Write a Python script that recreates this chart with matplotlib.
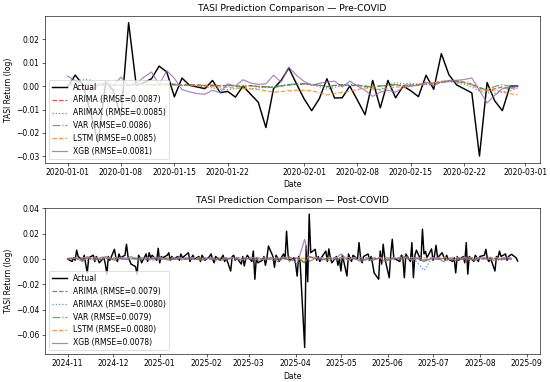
import numpy as np
import pandas as pd
import matplotlib
matplotlib.use("Agg")
import matplotlib.pyplot as plt

# ---- Pre-COVID window (daily, 2020-01-01 .. 2020-02-29) ----
pre_dates = pd.date_range("2020-01-01", "2020-02-29", freq="D")

pre_actual = [
    -0.0005, 0.0047, 0.0005, -0.0110, -0.0240, 0.0018, -0.0020, -0.0130, 0.0270, 0.0003,
    0.0015, 0.0031, 0.0085, 0.0060, -0.0046, 0.0034, 0.0003, -0.0004, -0.0011, 0.0024,
    -0.0028, -0.0023, -0.0047, 0.0000, -0.0035, -0.0069, -0.0177, -0.0011, 0.0024, 0.0077,
    0.0010, -0.0054, -0.0105, -0.0054, 0.0031, -0.0051, -0.0050, 0.0000, -0.0060, -0.0122,
    0.0024, -0.0093, 0.0024, -0.0050, 0.0000, -0.0020, -0.0045, 0.0046, -0.0014, 0.0138,
    0.0048, 0.0005, -0.0012, -0.0029, -0.0298, 0.0015, -0.0063, -0.0105, 0.0000, 0.0000,
]
pre_arima = [
    0.0003, 0.0008, 0.0006, 0.0004, 0.0006, 0.0005, 0.0002, 0.0004, 0.0005, 0.0010,
    0.0008, 0.0006, 0.0007, 0.0009, 0.0008, 0.0004, 0.0006, 0.0005, 0.0003, 0.0004,
    0.0002, 0.0003, 0.0001, -0.0001, 0.0002, -0.0002, -0.0004, -0.0006, 0.0000, 0.0004,
    0.0008, 0.0009, 0.0007, 0.0004, -0.0002, 0.0003, 0.0006, 0.0002, 0.0004, 0.0000,
    -0.0004, 0.0001, 0.0003, 0.0005, 0.0002, 0.0004, 0.0006, 0.0009, 0.0012, 0.0018,
    0.0022, 0.0020, 0.0016, 0.0008, -0.0006, -0.0018, -0.0012, -0.0004, -0.0010, -0.0006,
]
pre_arimax = [
    0.0005, 0.0015, 0.0030, 0.0025, 0.0012, 0.0006, 0.0004, 0.0008, 0.0004, 0.0012,
    0.0010, 0.0006, 0.0003, 0.0006, 0.0008, 0.0002, 0.0004, 0.0001, -0.0004, -0.0008,
    -0.0012, -0.0016, -0.0010, -0.0006, -0.0012, -0.0008, -0.0004, -0.0002, 0.0002, 0.0008,
    0.0006, 0.0010, 0.0004, -0.0002, -0.0014, -0.0006, 0.0002, 0.0008, 0.0004, -0.0004,
    -0.0012, -0.0018, 0.0006, 0.0014, 0.0010, 0.0012, 0.0008, 0.0006, 0.0004, 0.0018,
    0.0020, 0.0012, 0.0008, -0.0004, -0.0022, -0.0028, -0.0030, -0.0026, -0.0022, -0.0008,
]
pre_var = [
    0.0002, 0.0006, 0.0008, 0.0007, 0.0005, 0.0004, 0.0003, 0.0006, 0.0004, 0.0008,
    0.0007, 0.0005, 0.0006, 0.0008, 0.0006, 0.0003, 0.0004, 0.0004, 0.0002, 0.0003,
    0.0001, 0.0002, 0.0000, -0.0002, 0.0001, -0.0001, -0.0003, -0.0005, 0.0001, 0.0006,
    0.0009, 0.0010, 0.0008, 0.0003, -0.0004, 0.0002, 0.0005, 0.0001, 0.0003, -0.0001,
    -0.0005, 0.0000, 0.0003, 0.0006, 0.0003, 0.0005, 0.0007, 0.0010, 0.0013, 0.0016,
    0.0019, 0.0018, 0.0014, 0.0006, -0.0008, -0.0016, -0.0002, 0.0006, -0.0002, -0.0004,
]
pre_lstm = [
    0.0004, 0.0005, 0.0006, 0.0005, 0.0004, 0.0005, 0.0004, 0.0003, 0.0005, 0.0004,
    0.0006, 0.0005, 0.0005, 0.0004, 0.0003, 0.0003, 0.0002, 0.0001, 0.0000, -0.0002,
    -0.0004, -0.0006, -0.0008, -0.0010, -0.0012, -0.0015, -0.0020, -0.0026, -0.0024, -0.0020,
    -0.0018, -0.0018, -0.0020, -0.0028, -0.0038, -0.0032, -0.0026, -0.0022, -0.0015, -0.0008,
    -0.0012, -0.0014, -0.0008, -0.0005, -0.0002, 0.0000, 0.0005, 0.0010, 0.0015, 0.0020,
    0.0022, 0.0024, 0.0018, 0.0005, -0.0015, -0.0020, -0.0018, -0.0024, -0.0032, -0.0037,
]
pre_xgb = [
    0.0042, 0.0024, 0.0005, -0.0020, 0.0000, 0.0017, 0.0003, 0.0038, 0.0003, 0.0010,
    0.0038, 0.0060, 0.0005, 0.0066, 0.0033, -0.0015, -0.0025, -0.0032, -0.0035, -0.0018,
    -0.0028, 0.0010, 0.0000, 0.0027, 0.0013, 0.0007, 0.0010, 0.0046, 0.0017, 0.0081,
    0.0046, 0.0020, 0.0003, 0.0012, 0.0017, 0.0021, -0.0004, 0.0021, 0.0000, -0.0018,
    -0.0044, -0.0026, -0.0018, -0.0026, -0.0007, 0.0000, 0.0003, 0.0017, 0.0003, 0.0017,
    0.0024, 0.0024, 0.0028, 0.0034, -0.0018, -0.0072, -0.0040, -0.0011, -0.0007, -0.0001,
]
pre_rmse = ["0.0087", "0.0085", "0.0086", "0.0085", "0.0081"]

# ---- Post-COVID window (business days, 2024-11-01 .. 2025-08-26) ----
post_dates = pd.bdate_range("2024-11-01", "2025-08-26")

post_actual = [
    0.000, -0.002, 0.001, -0.001, 0.007, 0.002, -0.001, 0.003, -0.004, -0.011,
    0.001, 0.003, -0.002, 0.002, 0.000, -0.003, 0.001, -0.004, -0.012, 0.002,
    -0.001, 0.0077, 0.001, -0.002, 0.004, 0.001, 0.003, 0.0117, 0.002, -0.001,
    -0.004, -0.006, -0.012, 0.003, 0.001, -0.003, 0.004, -0.002, 0.005, 0.001,
    0.003, -0.001, 0.0085, -0.003, 0.002, 0.001, 0.003, 0.005, -0.001, 0.002,
    0.000, 0.002, -0.001, 0.004, 0.001, 0.002, 0.005, -0.002, 0.001, 0.003,
    0.000, 0.002, -0.002, 0.003, 0.001, -0.001, 0.002, 0.004, 0.000, -0.003,
    0.002, -0.001, 0.001, 0.003, -0.002, 0.001, -0.0095, 0.002, 0.003, -0.001,
    0.001, -0.004, 0.002, -0.0055, 0.000, 0.003, -0.002, 0.0063, -0.016, 0.001,
    -0.003, -0.001, 0.002, -0.005, 0.001, 0.0103, 0.002, -0.0066, 0.003, 0.001,
    -0.002, 0.004, 0.000, 0.022, 0.003, -0.001, 0.001, -0.004, -0.0135, 0.002,
    -0.003, -0.070, 0.0103, -0.018, 0.0355, 0.005, 0.0077, -0.001, 0.002, -0.002,
    0.001, 0.0063, -0.002, 0.008, 0.001, -0.003, 0.002, -0.005, 0.000, -0.0095,
    0.003, -0.0135, 0.004, 0.001, -0.002, 0.003, 0.000, 0.013, 0.001, -0.003,
    0.002, 0.004, -0.001, 0.002, -0.004, -0.011, -0.016, 0.0063, -0.004, 0.0117,
    0.001, -0.0148, 0.004, 0.0156, 0.001, 0.000, -0.002, 0.003, 0.001, -0.0148,
    0.004, -0.002, 0.013, -0.0148, 0.003, 0.007, -0.001, 0.0236, 0.004, 0.006,
    0.001, 0.008, -0.001, 0.003, 0.0109, 0.001, 0.005, 0.002, -0.001, 0.003,
    0.000, -0.002, 0.001, -0.011, 0.002, -0.001, 0.002, -0.003, 0.013, -0.012,
    0.002, -0.002, 0.003, 0.001, -0.002, 0.002, 0.003, 0.0077, 0.000, -0.002,
    0.001, -0.0095, 0.002, 0.001, 0.0063, 0.002, 0.004, -0.001, 0.002, 0.003,
    0.0037, 0.001, -0.0016,
]

# model forecasts are stored every 3rd trading day
post_pred_dates = post_dates[::3]

post_arima = [
    0.0000, 0.0005, -0.0005, 0.0008, 0.0000, -0.0004, 0.0006, 0.0000, 0.0004, -0.0003,
    0.0005, 0.0002, 0.0000, 0.0004, -0.0002, 0.0003, 0.0001, 0.0000, 0.0003, -0.0002,
    0.0002, 0.0000, 0.0004, -0.0003, 0.0001, 0.0003, 0.0000, -0.0002, 0.0004, 0.0000,
    0.0002, -0.0003, 0.0003, 0.0000, 0.0008, -0.0010, 0.0006, -0.0020, 0.0020, 0.0002,
    -0.0005, 0.0006, 0.0000, 0.0010, -0.0004, 0.0004, -0.0006, 0.0002, 0.0000, 0.0005,
    -0.0004, 0.0006, 0.0000, 0.0008, -0.0002, 0.0004, -0.0010, 0.0006, 0.0000, 0.0004,
    -0.0002, 0.0003, 0.0000, 0.0005, -0.0002, 0.0003, 0.0000, 0.0004, -0.0001, 0.0002,
    0.0000,
]
post_arimax = [
    0.0000, 0.0010, 0.0000, -0.0010, 0.0010, 0.0000, 0.0010, -0.0010, 0.0000, 0.0010,
    0.0000, 0.0000, 0.0010, -0.0010, 0.0000, 0.0010, 0.0000, 0.0000, -0.0010, 0.0010,
    0.0000, 0.0010, 0.0000, -0.0010, 0.0000, 0.0010, 0.0000, 0.0000, 0.0010, -0.0010,
    0.0000, 0.0010, -0.0010, 0.0000, 0.0020, -0.0020, 0.0010, -0.0030, 0.0020, 0.0000,
    -0.0010, 0.0010, 0.0000, -0.0010, 0.0010, 0.0000, 0.0010, -0.0010, 0.0000, 0.0010,
    0.0000, -0.0010, 0.0010, 0.0040, 0.0000, -0.0020, -0.0090, 0.0000, 0.0010, 0.0000,
    -0.0010, 0.0000, 0.0010, 0.0000, -0.0010, 0.0000, 0.0010, 0.0000, -0.0010, 0.0000,
    0.0000,
]
post_var = [
    0.0000, 0.0004, -0.0006, 0.0006, -0.0002, -0.0005, 0.0005, -0.0002, 0.0003, -0.0004,
    0.0004, 0.0001, -0.0002, 0.0003, -0.0003, 0.0002, 0.0000, -0.0002, 0.0002, -0.0003,
    0.0001, -0.0002, 0.0003, -0.0004, 0.0000, 0.0002, -0.0002, -0.0003, 0.0003, -0.0001,
    0.0001, -0.0004, 0.0002, -0.0002, 0.0006, -0.0012, 0.0004, -0.0030, 0.0016, 0.0000,
    -0.0006, 0.0004, -0.0002, 0.0008, -0.0006, 0.0002, -0.0008, 0.0001, -0.0002, 0.0004,
    -0.0006, 0.0004, -0.0002, 0.0006, -0.0004, 0.0002, -0.0020, 0.0004, -0.0002, 0.0003,
    -0.0004, 0.0002, -0.0002, 0.0004, -0.0003, 0.0002, -0.0002, 0.0003, -0.0002, 0.0001,
    -0.0002,
]
post_lstm = [
    0.0008, 0.0009, 0.0010, 0.0011, 0.0010, 0.0009, 0.0010, 0.0011, 0.0012, 0.0011,
    0.0010, 0.0010, 0.0011, 0.0012, 0.0012, 0.0011, 0.0010, 0.0010, 0.0011, 0.0012,
    0.0012, 0.0011, 0.0010, 0.0009, 0.0010, 0.0011, 0.0012, 0.0011, 0.0010, 0.0011,
    0.0012, 0.0012, 0.0011, 0.0010, 0.0011, 0.0008, 0.0012, 0.0002, 0.0016, 0.0013,
    0.0011, 0.0012, 0.0011, 0.0013, 0.0012, 0.0011, 0.0010, 0.0011, 0.0012, 0.0013,
    0.0012, 0.0011, 0.0012, 0.0014, 0.0012, 0.0011, 0.0008, 0.0011, 0.0012, 0.0013,
    0.0012, 0.0012, 0.0013, 0.0012, 0.0011, 0.0012, 0.0013, 0.0013, 0.0012, 0.0012,
    0.0011,
]
post_xgb = [
    0.000, 0.001, -0.002, 0.002, -0.001, 0.001, 0.002, -0.001, 0.001, 0.000,
    0.002, -0.001, 0.001, 0.000, 0.001, 0.000, -0.001, 0.001, 0.000, 0.001,
    0.000, -0.001, 0.001, 0.000, -0.001, 0.000, 0.001, -0.001, 0.000, 0.001,
    -0.001, 0.000, 0.001, -0.002, 0.001, 0.002, -0.004, 0.0156, -0.002, 0.001,
    0.000, -0.001, 0.001, 0.004, -0.001, 0.001, -0.002, 0.000, -0.001, 0.001,
    -0.002, 0.000, 0.001, 0.002, -0.001, 0.001, -0.001, 0.000, 0.001, -0.002,
    0.000, -0.001, 0.001, 0.000, -0.001, 0.001, 0.000, -0.001, 0.000, 0.001,
    0.000,
]
post_rmse = ["0.0079", "0.0080", "0.0079", "0.0080", "0.0078"]

model_names = ["ARIMA", "ARIMAX", "VAR", "LSTM", "XGB"]
model_styles = [("tab:red", "--"), ("tab:blue", ":"), ("tab:green", "-."),
                ("tab:orange", "--"), ("tab:purple", "-")]


def draw_panel(ax, dates, actual, pred_dates, preds, rmse, title):
    ax.plot(dates, actual, color="black", lw=1.9, label="Actual")
    for name, (col, ls), vals, r in zip(model_names, model_styles, preds, rmse):
        ax.plot(pred_dates, vals, color=col, ls=ls, lw=1.6, alpha=0.8,
                label=f"{name} (RMSE={r})")
    ax.set_title(title)
    ax.set_xlabel("Date")
    ax.set_ylabel("TASI Return (log)")
    ax.legend(loc="lower left")


# small dpi so that default font sizes match the scale of the reference
fig, (ax1, ax2) = plt.subplots(2, 1, figsize=(10, 382 / 55), dpi=55)

draw_panel(ax1, pre_dates, pre_actual, pre_dates,
           [pre_arima, pre_arimax, pre_var, pre_lstm, pre_xgb], pre_rmse,
           "TASI Prediction Comparison \u2014 Pre-COVID")
draw_panel(ax2, post_dates, post_actual, post_pred_dates,
           [post_arima, post_arimax, post_var, post_lstm, post_xgb], post_rmse,
           "TASI Prediction Comparison \u2014 Post-COVID")

fig.subplots_adjust(left=0.082, right=0.982, top=0.958, bottom=0.073, hspace=0.306)
plt.savefig("out.png", dpi=55)
